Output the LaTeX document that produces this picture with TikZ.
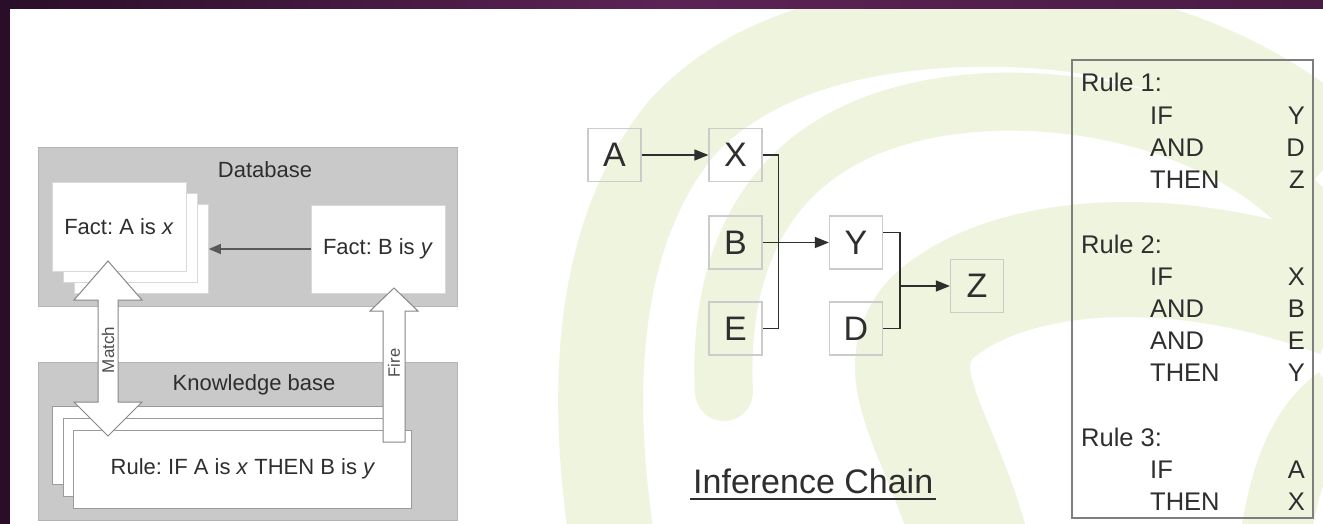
\documentclass[tikz,border=0pt]{standalone}
\usepackage{fontspec}
\setmainfont{Liberation Sans}
\usetikzlibrary{arrows.meta,calc}
\definecolor{frameA}{HTML}{2A0E29}
\definecolor{frameB}{HTML}{5C2355}
\definecolor{frameC}{HTML}{4A1B45}
\definecolor{swirlc}{HTML}{EFF4DF}
\definecolor{boxgray}{HTML}{C9C9C9}
\definecolor{boxedge}{HTML}{B4B4B4}
\definecolor{pageedge}{HTML}{9A9A9A}
\definecolor{ink}{HTML}{2E2E2E}
\definecolor{chainedge}{HTML}{CBCBCB}
\definecolor{arrowedge}{HTML}{878787}
\definecolor{rulesedge}{HTML}{7E7E7E}
\frenchspacing
\begin{document}
\begin{tikzpicture}[x=1pt,y=-1pt,
  swirl/.style={draw=swirlc},
  container/.style={draw=boxedge, fill=boxgray, line width=0.8pt, inner sep=0pt, minimum width=419pt},
  factpage/.style={draw=white!85!black, fill=white, line width=0.6pt, inner sep=0pt, minimum width=134pt, minimum height=89pt},
  rulepage/.style={draw=pageedge, fill=white, line width=0.8pt, inner sep=0pt, minimum width=338pt, minimum height=78pt},
  lbl/.style={font=\fontsize{22}{26}\selectfont, text=ink, inner sep=0pt},
  smalllbl/.style={font=\fontsize{16.5}{18}\selectfont, text=ink!85, inner sep=0pt},
  bigarrow/.style={draw=arrowedge, fill=white, line width=1pt, line join=miter},
  darrow/.style={draw=ink!80, line width=1.4pt, -{Triangle[length=12pt,width=10pt]}},
  chainbox/.style={draw=chainedge, line width=1.2pt, inner sep=0pt, minimum width=53pt, minimum height=53pt, font=\fontsize{34}{34}\selectfont, text=ink},
  conn/.style={draw=ink, line width=1.4pt},
  carrow/.style={conn, -{Triangle[length=14pt,width=11pt]}},
  ruletxt/.style={font=\fontsize{25.5}{28}\selectfont, text=ink, inner sep=0pt}
]
\useasboundingbox (0,0) rectangle (1323,524);
\fill[white] (0,0) rectangle (1323,524);

% background swirl
\begin{scope}
\clip (10,9) rectangle (1323,524);
\draw[swirl, line width=85pt] (615,560) .. controls (585,380) and (600,230) .. (680,130) .. controls (760,40) and (900,20) .. (1020,25) .. controls (1150,30) and (1260,80) .. (1340,150);
\draw[swirl, line width=58pt, line cap=round] (724,392) .. controls (718,270) and (760,180) .. (850,135) .. controls (950,85) and (1100,95) .. (1200,140) .. controls (1260,165) and (1300,200) .. (1340,250);
\draw[swirl, line width=115pt] (980,580) .. controls (950,440) and (880,380) .. (930,320) .. controls (990,260) and (1150,230) .. (1340,300);
\draw[swirl, line width=70pt] (1270,580) .. controls (1280,480) and (1300,430) .. (1340,400);
\end{scope}

% frame
\shade[left color=frameA, right color=frameC, middle color=frameB] (0,0) rectangle (1323,9);
\fill[frameA] (0,0) rectangle (10,524);

% ===== left diagram =====
\node[container, minimum height=159pt] (db) at (247.5,226.5) {};
\node[container, minimum height=158pt] (kb) at (247.5,441) {};
\node[lbl, anchor=base] (dblbl) at (265,178) {Database};
\node[lbl, anchor=base] (kblbl) at (254,390) {Knowledge base};

\node[factpage] (fa3) at (141.5,249) {};
\node[factpage] (fa2) at (130,237.5) {};
\node[factpage] (fa1) at (119,226.5) {};
\node[lbl] (fatxt) at (119,226.5) {Fact: A is \textit{x}};
\node[factpage, minimum height=88pt] (fb) at (378,249) {};
\node[lbl] (fbtxt) at (378,249) {Fact: B is \textit{y}};

\node[rulepage] (r3) at (221,445) {};
\node[rulepage] (r2) at (232,457) {};
\node[rulepage] (r1) at (242,469) {};
\node[lbl, anchor=base] (rtxt) at (243,474) {Rule: IF A is \textit{x} THEN B is \textit{y}};

\draw[darrow] (fb.west) -- (fa3.east);

% Match double arrow
\coordinate (mt) at (108,261);
\coordinate (mb) at (108,436);
\draw[bigarrow] (mt) -- ++(34,39) -- ++(-24,0) |- ($(mb)+(34,-34)$) -- (mb) -- ++(-34,-34) -- ++(24,0) |- ($(mt)+(-34,39)$) -- cycle;
\node[smalllbl, rotate=90, font=\fontsize{17}{18}\selectfont] (matchlbl) at (108,350) {Match};

% Fire arrow
\coordinate (ft) at (394,288);
\coordinate (fbot) at (394,442);
\draw[bigarrow] (ft) -- ++(24,23) -- ++(-13,0) |- ($(fbot)+(-11,0)$) |- ($(ft)+(-24,23)$) -- cycle;
\node[smalllbl, rotate=90] (firelbl) at (394,363) {Fire};

% ===== inference chain =====
\node[chainbox] (A) at (614.5,155) {A};
\node[chainbox] (X) at (735.5,155) {X};
\node[chainbox] (B) at (735.5,242.5) {B};
\node[chainbox] (E) at (735.5,328.5) {E};
\node[chainbox] (Y) at (856,242.5) {Y};
\node[chainbox] (D) at (856,328.5) {D};
\node[chainbox] (Z) at (977,286) {Z};

\draw[carrow] (A.east) -- (X.west);
\draw[conn] (X.east) -- ++(16,0) |- (E.east);
\draw[carrow] (B.east) -- (Y.west);
\draw[conn] ([yshift=10pt]Y.east) -- ++(17,0) coordinate (yz) |- (D.east);
\draw[carrow] (Z.west -| yz) -- (Z.west);

\node[font=\fontsize{34}{34}\selectfont, text=ink, inner sep=0pt, anchor=base west] (ic) at (693,493) {Inference Chain};
\draw[draw=ink, line width=2pt] ([xshift=-3pt,yshift=-6pt]ic.base west) -- ([xshift=3pt,yshift=-6pt]ic.base east);

% ===== rules box =====
\node[draw=rulesedge, line width=1.5pt, minimum width=241pt, minimum height=458pt, inner sep=0pt] (rules) at (1192.5,289) {};
\node[ruletxt, anchor=base west] (r1h) at (1081,92) {Rule 1:};
\node[ruletxt, anchor=base west] (r1a) at (1150,124.2) {IF};
\node[ruletxt, anchor=base west] (r1b) at (1150,156.4) {AND};
\node[ruletxt, anchor=base west] (r1c) at (1150,188.6) {THEN};
\node[ruletxt, anchor=base east] (r1av) at (1305,124.2) {Y};
\node[ruletxt, anchor=base east] (r1bv) at (1305,156.4) {D};
\node[ruletxt, anchor=base east] (r1cv) at (1305,188.6) {Z};
\node[ruletxt, anchor=base west] (r2h) at (1081,253) {Rule 2:};
\node[ruletxt, anchor=base west] (r2a) at (1150,285.2) {IF};
\node[ruletxt, anchor=base west] (r2b) at (1150,317.4) {AND};
\node[ruletxt, anchor=base west] (r2c) at (1150,349.6) {AND};
\node[ruletxt, anchor=base west] (r2d) at (1150,381.8) {THEN};
\node[ruletxt, anchor=base east] (r2av) at (1305,285.2) {X};
\node[ruletxt, anchor=base east] (r2bv) at (1305,317.4) {B};
\node[ruletxt, anchor=base east] (r2cv) at (1305,349.6) {E};
\node[ruletxt, anchor=base east] (r2dv) at (1305,381.8) {Y};
\node[ruletxt, anchor=base west] (r3h) at (1081,446.2) {Rule 3:};
\node[ruletxt, anchor=base west] (r3a) at (1150,478.4) {IF};
\node[ruletxt, anchor=base west] (r3b) at (1150,510.6) {THEN};
\node[ruletxt, anchor=base east] (r3av) at (1305,478.4) {A};
\node[ruletxt, anchor=base east] (r3bv) at (1305,510.6) {X};
\end{tikzpicture}
\end{document}
